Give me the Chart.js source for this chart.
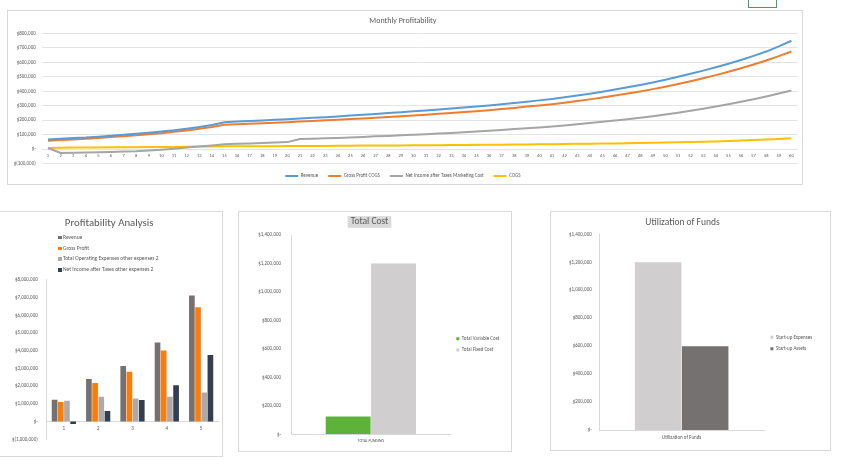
<!doctype html>
<html lang="en">

<head>
  <meta charset="utf-8">
  <title>Profitability Dashboard</title>
  <style>
    body { margin: 0; background: #fff; font-family: Carlito, Lato, sans-serif; }
    .panel { position: absolute; box-sizing: border-box; border: 1px solid #d9d9d9; background: #fff; }
    .panel canvas { position: absolute; left: 0; top: 0; }
    #monthly-panel { left: 7px; top: 10px; width: 796px; height: 175px; }
    #profit-panel { left: -1px; top: 211px; width: 224px; height: 246px; }
    #cost-panel { left: 238px; top: 211px; width: 274px; height: 241px; }
    #funds-panel { left: 550px; top: 211px; width: 281px; height: 240px; }
    #cell-select { position: absolute; left: 748px; top: -10px; width: 29px; height: 18px; box-sizing: border-box; border: 1px solid #4c9a6a; }
    #profit-legend { position: absolute; left: 58px; top: 20px; font-size: 5.5px; line-height: 10.7px; color: #595959; white-space: nowrap; }
    #profit-legend span { display: inline-block; width: 3.5px; height: 3.5px; margin-right: 1.5px; vertical-align: middle; }
  </style>
</head>

<body>

  <div id="cell-select"></div>

  <div class="panel" id="monthly-panel">
    <canvas id="monthly-chart" width="794" height="180"></canvas>
  </div>

  <div class="panel" id="profit-panel">
    <canvas id="profit-chart" width="222" height="244"></canvas>
    <div id="profit-legend"></div>
  </div>

  <div class="panel" id="cost-panel">
    <canvas id="cost-chart" width="272" height="239"></canvas>
  </div>

  <div class="panel" id="funds-panel">
    <canvas id="funds-chart" width="279" height="238"></canvas>
  </div>

  <script src="https://cdn.jsdelivr.net/npm/chart.js"></script>

  <script>

    // monthly profitability (60 months)
    const months = [1, 2, 3, 4, 5, 6, 7, 8, 9, 10, 11, 12, 13, 14, 15, 16, 17, 18, 19, 20,
      21, 22, 23, 24, 25, 26, 27, 28, 29, 30, 31, 32, 33, 34, 35, 36, 37, 38, 39, 40,
      41, 42, 43, 44, 45, 46, 47, 48, 49, 50, 51, 52, 53, 54, 55, 56, 57, 58, 59, 60];
    const revenue = [66000, 71000, 76000, 80000, 86000, 92000, 99000, 106000, 113000, 121000,
      130000, 141000, 153000, 167000, 186000, 190000, 194000, 198000, 203000, 207000,
      211000, 216000, 221000, 226000, 232000, 237000, 243000, 249000, 255000, 261000,
      267000, 273000, 280000, 287000, 294000, 302000, 310000, 319000, 328000, 337000,
      347000, 358000, 370000, 383000, 397000, 412000, 428000, 444000, 461000, 480000,
      500000, 521000, 543000, 566000, 591000, 617000, 645000, 675000, 711000, 750000];
    const grossProfit = [57000, 62000, 67000, 71000, 77000, 83000, 89000, 96000, 103000, 110000,
      119000, 129000, 140000, 153000, 168000, 172000, 175000, 178000, 182000, 186000,
      190000, 194000, 199000, 203000, 208000, 212000, 217000, 222000, 227000, 232000,
      238000, 244000, 250000, 256000, 262000, 269000, 277000, 285000, 294000, 302000,
      311000, 321000, 332000, 344000, 357000, 370000, 384000, 399000, 415000, 432000,
      450000, 470000, 490000, 512000, 535000, 559000, 585000, 613000, 643000, 675000];
    const netIncome = [7000, -27000, -25000, -24000, -22000, -20000, -17000, -15000, -10000, -4000,
      2000, 10000, 17000, 25000, 34000, 37000, 39000, 42000, 45000, 48000,
      70000, 72000, 74000, 77000, 80000, 84000, 88000, 91000, 95000, 99000,
      103000, 107000, 112000, 117000, 122000, 127000, 132000, 138000, 144000, 150000,
      156000, 163000, 171000, 180000, 189000, 197000, 206000, 216000, 227000, 239000,
      252000, 265000, 279000, 294000, 310000, 327000, 345000, 364000, 384000, 405000];
    const cogs = [8000, 9000, 10000, 10000, 11000, 12000, 12000, 13000, 14000, 14000,
      15000, 16000, 17000, 18000, 19000, 19000, 19000, 20000, 20000, 21000,
      21000, 22000, 22000, 23000, 23000, 24000, 24000, 25000, 25000, 26000,
      26000, 27000, 28000, 28000, 29000, 30000, 30000, 31000, 32000, 33000,
      34000, 35000, 36000, 37000, 38000, 39000, 40000, 42000, 43000, 45000,
      47000, 49000, 51000, 53000, 56000, 59000, 62000, 66000, 70000, 75000];

    // profitability analysis (5 years)
    const years = ['1', '2', '3', '4', '5'];
    const yearRevenue = [1240000, 2400000, 3140000, 4470000, 7120000];
    const yearGrossProfit = [1100000, 2180000, 2820000, 4020000, 6460000];
    const yearOperatingExpenses = [1180000, 1410000, 1300000, 1410000, 1650000];
    const yearNetIncome = [-130000, 600000, 1220000, 2050000, 3760000];

    // total cost
    const costCategories = ['TOTAL FUNDING'];
    const variableCost = [125000];
    const fixedCost = [1200000];

    // utilization of funds
    const fundCategories = ['Utilization of Funds'];
    const startupExpenses = [1200000];
    const startupAssets = [600000];

    Chart.defaults.font.family = 'Carlito, Lato, sans-serif';
    Chart.defaults.font.size = 5;
    Chart.defaults.color = '#595959';
    Chart.defaults.animation = false;
    Chart.defaults.plugins.tooltip.enabled = false;

    function money(value) {
      if (value === 0) return '$-';
      const text = Math.abs(value).toLocaleString('en-US');
      return value < 0 ? '$(' + text + ')' : '$' + text;
    }

    function lineSet(label, data, color) {
      return {
        label: label,
        data: data,
        borderColor: color,
        backgroundColor: color,
        borderWidth: 2,
        pointRadius: 0,
        tension: 0,
        fill: false
      };
    }

    function valueAxis(max, step, width, padding, line) {
      return {
        min: 0,
        max: max,
        grid: { display: false, drawTicks: false },
        border: { display: line, color: '#d9d9d9' },
        ticks: { stepSize: step, padding: padding, callback: (value) => money(value) },
        afterFit: (scale) => { scale.width = width; }
      };
    }

    function categoryAxis(size, padding) {
      return {
        position: { y: 0 },
        offset: true,
        grid: { display: false, drawTicks: false },
        border: { display: true, color: '#d9d9d9' },
        ticks: { padding: padding, font: { size: size }, maxRotation: 0, autoSkip: false }
      };
    }

    function chartTitle(text, size, top, bottom) {
      return {
        display: true,
        text: text,
        color: '#595959',
        font: { size: size, weight: 'normal' },
        padding: { top: top, bottom: bottom }
      };
    }

    function sideLegend(maxWidth, shift, gap) {
      return {
        position: 'right',
        fullSize: false,
        maxWidth: maxWidth,
        title: { display: true, text: '', font: { size: 5 }, padding: { top: shift, bottom: 0 } },
        labels: { boxWidth: 3, boxHeight: 3, padding: gap, font: { size: 5 }, color: '#595959' }
      };
    }

    // grey box behind the "Total Cost" title
    const titleHighlight = {
      id: 'titleHighlight',
      beforeDraw(chart) {
        const title = chart.titleBlock;
        const ctx = chart.ctx;
        const font = Chart.helpers.toFont(title.options.font);
        const pad = Chart.helpers.toPadding(title.options.padding);
        ctx.save();
        ctx.font = font.string;
        const w = ctx.measureText(title.options.text).width + 6;
        const cx = (title.left + title.right) / 2;
        const cy = title.top + pad.top + font.lineHeight / 2;
        ctx.fillStyle = '#d9d9d9';
        ctx.fillRect(cx - w / 2, cy - 5.8, w, 11.6);
        ctx.restore();
      }
    };

    function htmlLegend(chart, target) {
      const box = document.getElementById(target);
      chart.data.datasets.forEach((ds) => {
        const row = document.createElement('div');
        const swatch = document.createElement('span');
        swatch.style.background = ds.backgroundColor;
        row.appendChild(swatch);
        row.appendChild(document.createTextNode(ds.label));
        box.appendChild(row);
      });
    }

    new Chart(document.getElementById('monthly-chart'), {
      type: 'line',
      data: {
        labels: months,
        datasets: [
          lineSet('Revenue', revenue, '#5b9bd5'),
          lineSet('Gross Profit COGS', grossProfit, '#ed7d31'),
          lineSet('Net Income after Taxes Marketing Cost', netIncome, '#a5a5a5'),
          lineSet('COGS', cogs, '#ffc000')
        ]
      },
      options: {
        responsive: false,
        layout: { padding: { left: 0, right: 4.3, top: 0, bottom: 2.5 } },
        scales: {
          x: {
            position: { y: 0 },
            offset: true,
            grid: { display: false, drawTicks: false },
            border: { display: false },
            ticks: { padding: 4, font: { size: 4.5 }, maxRotation: 0, autoSkip: false }
          },
          y: {
            min: -100000,
            max: 800000,
            grid: { color: '#e4e4e4', drawTicks: false },
            border: { display: false },
            ticks: { stepSize: 100000, padding: 6, callback: (value) => money(value) },
            afterFit: (scale) => { scale.width = 33.7; }
          }
        },
        plugins: {
          title: chartTitle('Monthly Profitability', 8, 4.9, 8),
          legend: {
            position: 'bottom',
            labels: { boxWidth: 13, boxHeight: 0, padding: 10, font: { size: 5 }, color: '#595959' }
          }
        }
      }
    });

    const profitChart = new Chart(document.getElementById('profit-chart'), {
      type: 'bar',
      data: {
        labels: years,
        datasets: [
          { label: 'Revenue', data: yearRevenue, backgroundColor: '#767171' },
          { label: 'Gross Profit', data: yearGrossProfit, backgroundColor: '#fa7d0c' },
          { label: 'Total Operating Expenses other expenses 2', data: yearOperatingExpenses, backgroundColor: '#aeaaaa' },
          { label: 'Net Income after Taxes other expenses 2', data: yearNetIncome, backgroundColor: '#333f50' }
        ]
      },
      options: {
        responsive: false,
        datasets: { bar: { categoryPercentage: 0.72, barPercentage: 0.92 } },
        layout: { padding: { left: 0, right: 3.7, top: 0, bottom: 16.7 } },
        scales: {
          x: categoryAxis(5, 4),
          y: Object.assign(valueAxis(8000000, 1000000, 46.7, 9, true), { min: -1000000 })
        },
        plugins: {
          title: chartTitle('Profitability Analysis', 10.8, 5.2, 49.8),
          legend: { display: false }
        }
      }
    });
    htmlLegend(profitChart, 'profit-legend');

    new Chart(document.getElementById('cost-chart'), {
      type: 'bar',
      data: {
        labels: costCategories,
        datasets: [
          { label: 'Total Variable Cost', data: variableCost, backgroundColor: '#5cb338' },
          { label: 'Total Fixed Cost', data: fixedCost, backgroundColor: '#d0cece' }
        ]
      },
      options: {
        responsive: false,
        datasets: { bar: { categoryPercentage: 0.573, barPercentage: 0.99 } },
        layout: { padding: { left: 0, right: 11, top: 0, bottom: 16.7 } },
        scales: {
          x: categoryAxis(4, 4),
          y: valueAxis(1400000, 200000, 52.7, 10.7, true)
        },
        plugins: {
          title: chartTitle('Total Cost', 9.5, 4.3, 7.3),
          legend: sideLegend(50, 13.3, 6.3)
        }
      },
      plugins: [titleHighlight]
    });

    new Chart(document.getElementById('funds-chart'), {
      type: 'bar',
      data: {
        labels: fundCategories,
        datasets: [
          { label: 'Start-up Expenses', data: startupExpenses, backgroundColor: '#d0cece' },
          { label: 'Start-up Assets', data: startupAssets, backgroundColor: '#767171' }
        ]
      },
      options: {
        responsive: false,
        datasets: { bar: { categoryPercentage: 0.571, barPercentage: 0.99 } },
        layout: { padding: { left: 0, right: 16, top: 0, bottom: 20 } },
        scales: {
          x: categoryAxis(5, 5.2),
          y: valueAxis(1400000, 200000, 48.3, 7.6, true)
        },
        plugins: {
          title: chartTitle('Utilization of Funds', 9.5, 4.6, 6.3),
          legend: sideLegend(50, 15.7, 6.4)
        }
      }
    });
  </script>

</body>

</html>
